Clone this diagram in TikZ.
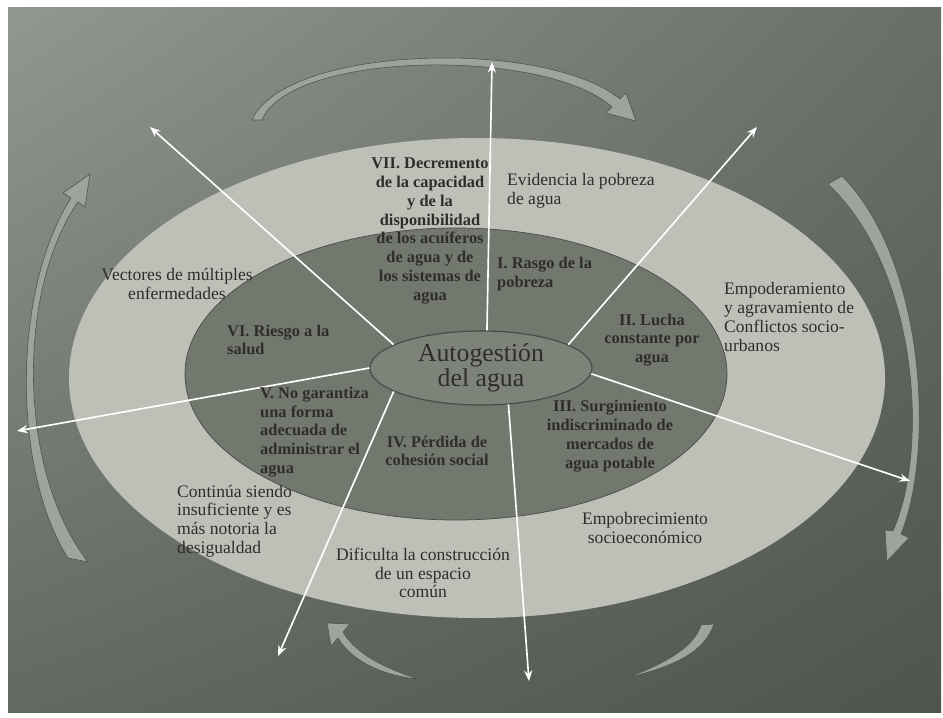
\documentclass[tikz,border=0pt]{standalone}
\usepackage{fontspec}
\setmainfont{Liberation Serif}
\usetikzlibrary{arrows.meta,shapes.geometric,shadings}

\definecolor{bgA}{RGB}{146,151,145}
\definecolor{bgB}{RGB}{104,110,104}
\definecolor{bgC}{RGB}{98,104,98}
\definecolor{bgD}{RGB}{78,84,78}
\definecolor{ringout}{RGB}{190,192,184}
\definecolor{ringmid}{RGB}{114,120,110}
\definecolor{core}{RGB}{126,131,121}
\definecolor{ringedge}{RGB}{72,76,68}
\definecolor{swirlc}{RGB}{158,163,157}
\definecolor{swirle}{RGB}{78,83,78}
\definecolor{txtc}{RGB}{48,45,41}

\begin{document}
\begin{tikzpicture}[x=0.03cm,y=-0.03cm,
  ray/.style={draw=white,line width=1.4pt,-{Stealth[length=9pt,width=7pt]}},
  swirl/.style={fill=swirlc,draw=swirle,line width=0.5pt},
  lbl/.style={text=txtc,inner sep=0pt,font=\fontsize{15}{16}\selectfont},
  inlbl/.style={lbl,font=\fontsize{14}{16}\selectfont\bfseries}]
  % Paper and shaded background first
  \fill[white] (0,0) rectangle (943,717);
  \shade[upper left=bgA,upper right=bgB,lower left=bgC,lower right=bgD] (8,7) rectangle (941,712);
  \useasboundingbox (0,0) rectangle (943,717);
  % Rings
  \fill[ringout] (477,378) ellipse [x radius=408,y radius=240];
  \filldraw[fill=ringmid,draw=ringedge,line width=0.6pt] (456,374) ellipse [x radius=271,y radius=146];
  \node[ellipse,fill=core,draw=ringedge,line width=1pt,minimum width=6.66cm,minimum height=2.22cm,
    inner sep=0pt,align=center,text=txtc,font=\fontsize{22}{21.5}\selectfont] (ctr) at (481,368) {Autogestión\\del agua};
  % Curved arrows round the rings
  \filldraw[swirl] (252,120) .. controls (285,45) and (545,38) .. (620,99) -- (626,93) -- (636,121)
    -- (606,113) -- (612,107) .. controls (545,47) and (290,51) .. (262,120) -- cycle;
  \filldraw[swirl] (68,558) .. controls (12,470) and (12,290) .. (71,198) -- (63,193) -- (90,174)
    -- (85,207) -- (78,202) .. controls (17,290) and (17,470) .. (88,562) -- cycle;
  \filldraw[swirl] (828,184) -- (842,176) .. controls (925,260) and (935,450) .. (901,534) -- (909,538)
    -- (887,561) -- (885,530) -- (893,531) .. controls (929,450) and (919,270) .. (828,184) -- cycle;
  \filldraw[swirl] (418,679) .. controls (385,668) and (357,655) .. (343,632) -- (350,624) -- (327,623)
    -- (331,646) -- (338,638) .. controls (352,662) and (385,676) .. (418,679) -- cycle;
  \filldraw[swirl] (626,678) .. controls (680,665) and (705,650) .. (714,624) -- (701,625)
    .. controls (695,645) and (670,662) .. (626,678) -- cycle;
  % Ends of the rays
  \coordinate (rU) at (492,62);
  \coordinate (rUL) at (150,127);
  \coordinate (rUR) at (757,127);
  \coordinate (rL) at (17,431);
  \coordinate (rR) at (910,481);
  \coordinate (rDL) at (278,656);
  \coordinate (rDR) at (529,681);
  \draw[ray] (ctr.81) -- (rU);
  \draw[ray] (ctr.165) -- (rUL);
  \draw[ray] (ctr.15) -- (rUR);
  \draw[ray] (ctr.180) -- (rL);
  \draw[ray] (ctr.-3) -- (rR);
  \draw[ray] (ctr.195) -- (rDL);
  \draw[ray] (ctr.-53) -- (rDR);
  % Inner ring labels
  \node[inlbl,align=center] (t7) at (430,231) {VII. Decremento\\de la capacidad\\y de la\\disponibilidad\\de los acuíferos\\de agua y de\\los sistemas de\\agua};
  \node[inlbl,align=left,anchor=west] (t1) at (497,274) {I. Rasgo de la\\pobreza};
  \node[inlbl,align=center] (t2) at (652,340) {II. Lucha\\constante por\\agua};
  \node[inlbl,align=center] (t3) at (610,436) {III. Surgimiento\\indiscriminado de\\mercados de\\agua potable};
  \node[inlbl,align=center] (t4) at (437,451) {IV. Pérdida de\\cohesión social};
  \node[inlbl,align=left,anchor=west] (t5) at (260,432) {V. No garantiza\\una forma\\adecuada de\\administrar el\\agua};
  \node[inlbl,align=left,anchor=west] (t6) at (227,340) {VI. Riesgo a la\\salud};
  % Outer ring labels
  \node[lbl,align=left,anchor=west] (o1) at (507,191) {Evidencia la pobreza\\de agua};
  \node[lbl,align=left,anchor=west] (o2) at (724,317) {Empoderamiento\\y agravamiento de\\Conflictos socio-\\urbanos};
  \node[lbl,align=center] (o3) at (645,528) {Empobrecimiento\\socioeconómico};
  \node[lbl,align=center] (o4) at (423,573) {Dificulta la construcción\\de un espacio\\común};
  \node[lbl,align=left,anchor=west] (o5) at (177,521) {Continúa siendo\\insuficiente y es\\más notoria la\\desigualdad};
  \node[lbl,align=center] (o6) at (177,284) {Vectores de múltiples\\enfermedades};
\end{tikzpicture}
\end{document}
